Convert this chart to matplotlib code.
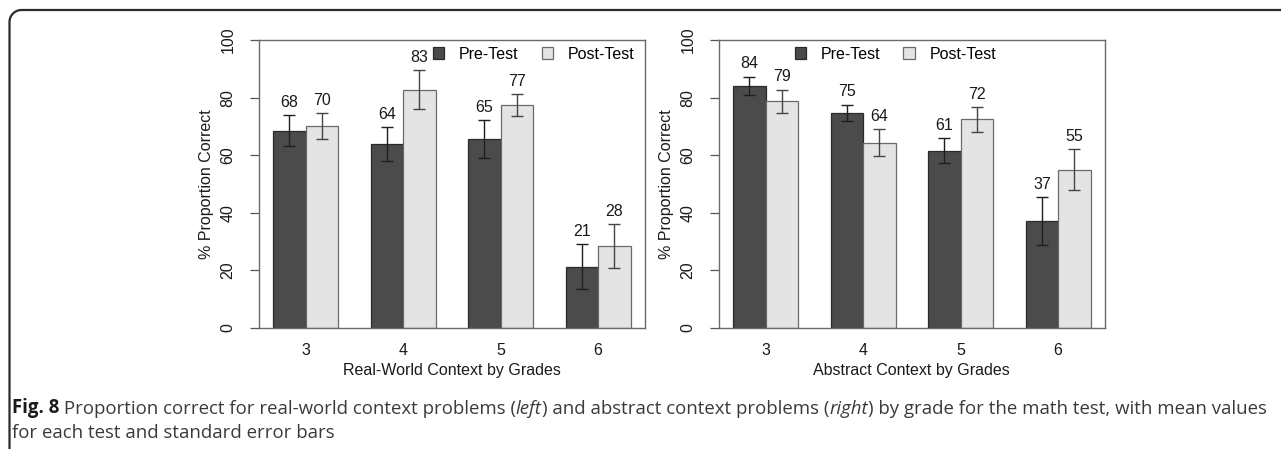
import matplotlib
matplotlib.use("Agg")
import matplotlib.pyplot as plt
from matplotlib.patches import Patch
from matplotlib.lines import Line2D
import numpy as np

grades = ["3", "4", "5", "6"]
series_names = ["Pre-Test", "Post-Test"]

# Real-world context (left)
rw_pre = [68.5, 63.9, 65.7, 21.2]
rw_post = [70.1, 82.8, 77.4, 28.5]
rw_pre_se = [5.3, 5.8, 6.6, 7.8]
rw_post_se = [4.4, 6.8, 3.9, 7.5]
rw_pre_lab = [68, 64, 65, 21]
rw_post_lab = [70, 83, 77, 28]

# Abstract context (right)
ab_pre = [84.1, 74.8, 61.6, 37.2]
ab_post = [78.7, 64.4, 72.5, 55.0]
ab_pre_se = [3.2, 2.8, 4.2, 8.3]
ab_post_se = [4.1, 4.7, 4.3, 7.2]
ab_pre_lab = [84, 75, 61, 37]
ab_post_lab = [79, 64, 72, 55]

yticks = [0, 20, 40, 60, 80, 100]

caption_line1 = [
    ("Fig. 8", "bold", "normal"),
    (" Proportion correct for real-world context problems (", "normal", "normal"),
    ("left", "normal", "italic"),
    (") and abstract context problems (", "normal", "normal"),
    ("right", "normal", "italic"),
    (") by grade for the math test, with mean values", "normal", "normal"),
]
caption_line2 = "for each test and standard error bars"

PRE_FILL = "#4b4b4b"
PRE_EDGE = "#2a2a2a"
POST_FILL = "#e4e4e4"
POST_EDGE = "#6a6a6a"
FS = 11.5
plt.rcParams["font.family"] = ["Liberation Sans", "DejaVu Sans"]

fig = plt.figure(figsize=(12.81, 4.49), dpi=100)

W, H = 1281.0, 449.0
ax_w = 386.3 / W
ax_h = 288.0 / H
ax_b = (H - 328.0) / H
axL = fig.add_axes([258.7 / W, ax_b, ax_w, ax_h])
axR = fig.add_axes([718.7 / W, ax_b, ax_w, ax_h])


def draw(ax, pre, post, pre_se, post_se, pre_lab, post_lab, xlabel, leg_x):
    n = len(grades)
    idx = np.arange(n)
    pre_x = 1.5 + 3 * idx
    post_x = 2.5 + 3 * idx
    ax.bar(pre_x, pre, width=1.0, color=PRE_FILL, edgecolor=PRE_EDGE, linewidth=0.9, zorder=2)
    ax.bar(post_x, post, width=1.0, color=POST_FILL, edgecolor=POST_EDGE, linewidth=0.9, zorder=2)
    ax.errorbar(pre_x, pre, yerr=pre_se, fmt="none", ecolor="#1e1e1e", elinewidth=1.0,
                capsize=4.5, capthick=1.0, zorder=3)
    ax.errorbar(post_x, post, yerr=post_se, fmt="none", ecolor="#444444", elinewidth=1.0,
                capsize=4.5, capthick=1.0, zorder=3)
    for x, v, s, lab in zip(pre_x, pre, pre_se, pre_lab):
        ax.text(x, v + s + 1.8, str(lab), ha="center", va="bottom", fontsize=FS, color="#1a1a1a")
    for x, v, s, lab in zip(post_x, post, post_se, post_lab):
        ax.text(x, v + s + 1.8, str(lab), ha="center", va="bottom", fontsize=FS, color="#1a1a1a")

    ax.set_xlim(0.56, 12.44)
    ax.set_ylim(0, 100)
    ax.set_yticks(yticks)
    ax.set_yticklabels([str(t) for t in yticks], rotation=90, va="center", fontsize=FS, color="#1a1a1a")
    ax.set_xticks(2 + 3 * idx)
    ax.set_xticklabels(grades, fontsize=FS, color="#1a1a1a")
    ax.tick_params(axis="x", length=0, pad=11)
    ax.tick_params(axis="y", length=6.7, width=0.9, color="#555555", pad=10)
    for sp in ax.spines.values():
        sp.set_color("#6a6a6a")
        sp.set_linewidth(1.0)
    ax.set_ylabel("% Proportion Correct", fontsize=FS, color="#1a1a1a")
    ax.yaxis.set_label_coords(-0.117, 0.5)
    ax.set_xlabel(xlabel, fontsize=FS, color="#1a1a1a")
    ax.xaxis.set_label_coords(0.5, -0.122)

    handles = [Patch(facecolor=PRE_FILL, edgecolor=PRE_EDGE, linewidth=0.9, label=series_names[0]),
               Patch(facecolor=POST_FILL, edgecolor=POST_EDGE, linewidth=0.9, label=series_names[1])]
    ax.legend(handles=handles, ncol=2, loc="center left", bbox_to_anchor=(leg_x, 0.951),
              frameon=False, fontsize=FS, handlelength=0.72, handleheight=0.72,
              handletextpad=0.9, columnspacing=1.45, borderpad=0, borderaxespad=0)


draw(axL, rw_pre, rw_post, rw_pre_se, rw_post_se, rw_pre_lab, rw_post_lab,
     "Real-World Context by Grades", 0.451)
draw(axR, ab_pre, ab_post, ab_pre_se, ab_post_se, ab_pre_lab, ab_post_lab,
     "Abstract Context by Grades", 0.197)

# outer frame: top and left lines with rounded corner
r = 12.0
x0, y0 = 9.5, 10.0
th = np.linspace(np.pi, np.pi / 2, 20)
cx, cy = x0 + r, y0 + r
arc_x = cx + r * np.cos(th)
arc_y = cy - r * np.sin(th)
frame_x = np.concatenate([[x0], arc_x, [W]])
frame_y = np.concatenate([[H], arc_y, [y0]])
fig.add_artist(Line2D(frame_x / W, 1 - frame_y / H, transform=fig.transFigure,
                      color="#2b2b2b", linewidth=1.6))

# caption
cap_font = ["Open Sans", "DejaVu Sans"]
cap_fs = 13.4
y1 = 1 - 413.5 / H
fig.canvas.draw()
renderer = fig.canvas.get_renderer()
xpos = 11.5
for txt, weight, style in caption_line1:
    t = fig.text(xpos / W, y1, txt, fontsize=cap_fs, fontweight=weight, fontstyle=style,
                 family=cap_font, color="#1a1a1a" if weight == "bold" else "#3a3a3a",
                 ha="left", va="baseline")
    bb = t.get_window_extent(renderer=renderer)
    xpos = bb.x1
fig.text(11.5 / W, 1 - 438.0 / H, caption_line2,
         fontsize=cap_fs, family=cap_font, color="#3a3a3a", ha="left", va="baseline")

fig.savefig("out.png", dpi=100)
